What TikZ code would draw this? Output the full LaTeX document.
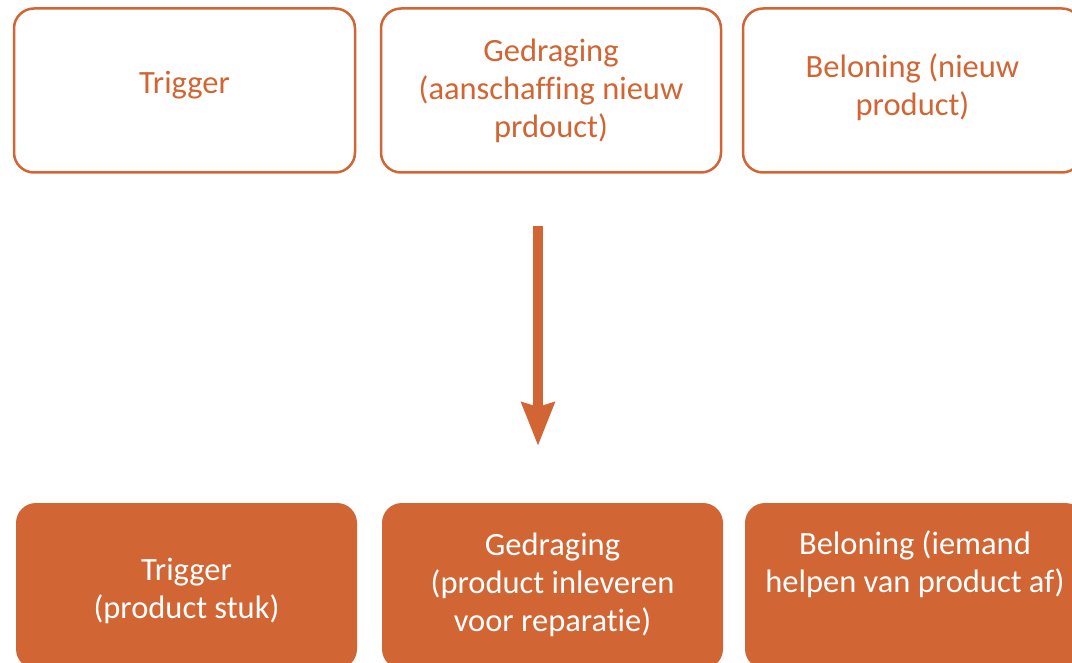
\documentclass[tikz,border=0pt]{standalone}
\usepackage{fontspec}
\setmainfont{Carlito}[Ligatures=NoCommon]
\usetikzlibrary{arrows.meta}
\definecolor{rust}{HTML}{D16534}
\begin{document}
\begin{tikzpicture}[x=1pt,y=-1pt,
  box/.style={rectangle, rounded corners=20pt, inner sep=0pt, outer sep=0pt},
  openbox/.style={box, draw=rust, line width=2.5pt, fill=white, minimum height=164pt},
  solidbox/.style={box, fill=rust, minimum height=166pt},
  txt/.style={inner sep=0pt, align=center, font=\fontsize{32.5}{38}\selectfont},
  darktxt/.style={txt, text=rust},
  lighttxt/.style={txt, text=white},
  flow/.style={draw=rust, line width=10pt, -{Stealth[width=32pt,length=43pt,inset=4pt]}}]
  \useasboundingbox (0,0) rectangle (1072,663);
  % upper row: outlined boxes
  \node[openbox, minimum width=341pt] (t1) at (184.5,90.5) {};
  \node[openbox, minimum width=340pt] (t2) at (551,90.5) {};
  \node[openbox, minimum width=339pt] (t3) at (912.5,90.5) {};
  \node[darktxt] (t1text) at ([yshift=5pt]t1.center) {Trigger};
  \node[darktxt] (t2text) at (t2.center) {Gedraging\\(aanschaffing nieuw\\prdouct)};
  \node[darktxt] (t3text) at ([yshift=3.5pt]t3.center) {Beloning (nieuw\\product)};
  % lower row: filled boxes
  \node[solidbox, minimum width=341pt] (b1) at (186.5,586) {};
  \node[solidbox, minimum width=341pt] (b2) at (552.5,586) {};
  \node[solidbox, minimum width=340pt] (b3) at (915,586) {};
  \node[lighttxt] (b1text) at ([yshift=-5pt]b1.center) {Trigger\\(product stuk)};
  \node[lighttxt] (b2text) at ([yshift=1pt]b2.center) {Gedraging\\(product inleveren\\voor reparatie)};
  \node[lighttxt, anchor=north] (b3text) at (915,531) {Beloning (iemand\\helpen van product af)};
  % arrow between the rows
  \coordinate (as) at (538,226);
  \coordinate (ae) at (538,446);
  \draw[flow] (as) -- (ae);
\end{tikzpicture}
\end{document}
